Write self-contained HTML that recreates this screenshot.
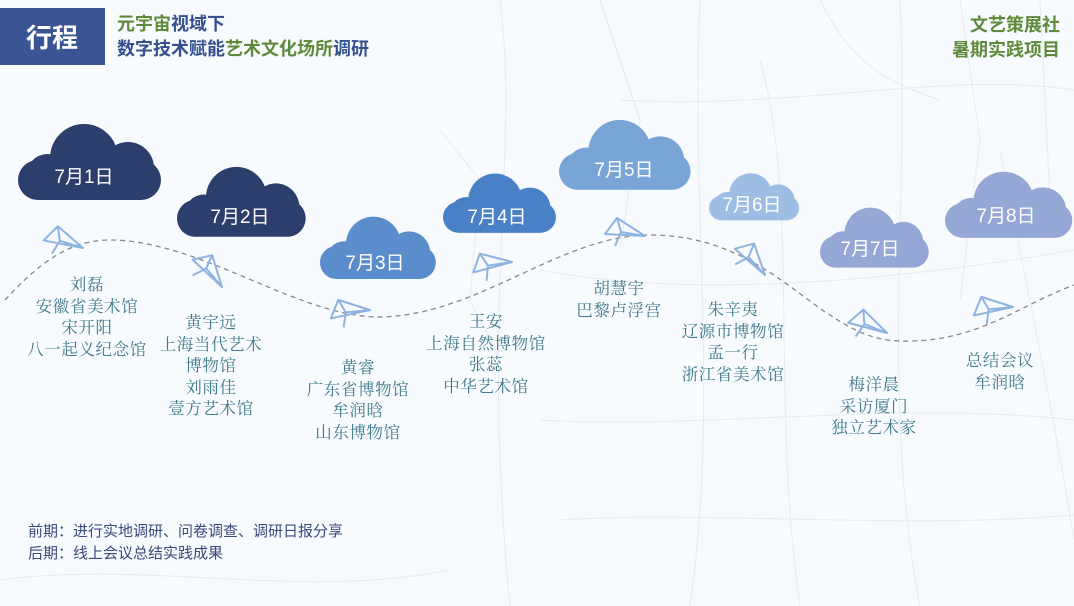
<!DOCTYPE html>
<html><head><meta charset="utf-8"><style>
html,body{margin:0;padding:0;}
body{width:1074px;height:606px;overflow:hidden;background:#f8fbfd;position:relative;font-family:"Liberation Sans","Noto Sans CJK SC",sans-serif;}
.lbl{position:absolute;text-align:center;color:#3e7a8a;font-family:"Noto Serif CJK SC","Liberation Serif",serif;font-size:16.5px;letter-spacing:0.6px;line-height:21.5px;white-space:nowrap;transform:translateX(-50%);}
</style></head><body>
<svg width="1074" height="606" style="position:absolute;left:0;top:0">
<defs>
<g id="cloud"><rect x="0" y="38" width="143" height="40" rx="20"/><circle cx="66" cy="36" r="34"/><circle cx="110" cy="46" r="26"/><circle cx="30" cy="54" r="22"/></g>
<g id="plane" fill="none" stroke="#8fb3e0" stroke-width="2" stroke-linejoin="round"><polygon points="0,0 -28,-18 -40,-2"/><polyline points="-28,-18 -24,-4 0,0"/><line x1="-24" y1="-4" x2="-30" y2="10"/></g>
</defs>
<g stroke="#e6ebf1" stroke-width="1" fill="none">
<path d="M500 0 C520 150 480 300 510 606"/><path d="M700 0 C690 200 720 400 690 606"/><path d="M760 60 C800 200 770 400 800 606"/>
<path d="M900 0 C910 200 880 400 920 606"/><path d="M1000 150 C1030 300 1060 450 1074 540"/><path d="M540 270 C700 300 900 280 1074 250"/>
<path d="M540 420 C700 430 900 400 1074 420"/><path d="M560 520 C700 510 900 530 1074 515"/><path d="M620 100 C800 110 950 70 1074 90"/>
<path d="M820 0 C850 60 880 80 940 100"/><path d="M440 130 L480 180 L470 300 L500 360"/><path d="M0 580 C150 560 300 600 450 570"/>
<path d="M600 0 L640 120 L620 250"/><path d="M960 0 L980 140 L960 300"/><path d="M1040 0 L1050 200"/>
</g>
<path d="M5,300 C40,262 70,240 110,240 C200,240 300,318 380,317 C480,315 560,235 650,235 C740,235 790,290 830,315 C860,335 880,342 910,341 C980,340 1020,305 1074,285" fill="none" stroke="#888" stroke-width="1.3" stroke-dasharray="5,4"/>
<use href="#plane" transform="translate(83,248) rotate(8)"/>
<use href="#plane" transform="translate(222,287) rotate(40)"/>
<use href="#plane" transform="translate(370,310) rotate(-15)"/>
<use href="#plane" transform="translate(512,262) rotate(-18)"/>
<use href="#plane" transform="translate(645,236) rotate(0)"/>
<use href="#plane" transform="translate(765,275) rotate(38)"/>
<use href="#plane" transform="translate(887,333) rotate(12)"/>
<use href="#plane" transform="translate(1013,307) rotate(-15)"/>
<use href="#cloud" fill="#2c3e6b" transform="translate(18,122) scale(1,1)"/>
<use href="#cloud" fill="#2c3e6b" transform="translate(177,165) scale(0.9,0.92)"/>
<use href="#cloud" fill="#5b8ccc" transform="translate(320,215) scale(0.81,0.82)"/>
<use href="#cloud" fill="#4a80c6" transform="translate(443,172) scale(0.79,0.78)"/>
<use href="#cloud" fill="#79a5d6" transform="translate(559,118) scale(0.92,0.92)"/>
<use href="#cloud" fill="#9dbde3" transform="translate(709,172) scale(0.63,0.62)"/>
<use href="#cloud" fill="#95a7d5" transform="translate(820,206) scale(0.76,0.79)"/>
<use href="#cloud" fill="#95a7d5" transform="translate(945,170) scale(0.89,0.87)"/>
<g fill="#fff" font-size="19" text-anchor="middle" font-family="Liberation Sans,Noto Sans CJK SC,sans-serif">
<text x="84" y="183">7月1日</text><text x="240" y="223">7月2日</text><text x="375" y="269">7月3日</text>
<text x="497" y="223">7月4日</text><text x="624" y="176">7月5日</text><text x="752" y="211">7月6日</text>
<text x="870" y="255">7月7日</text><text x="1006" y="222">7月8日</text>
</g>
<rect x="0" y="8" width="105" height="57" fill="#3a5494"/>
<text x="52" y="47" fill="#fff" font-size="26" font-weight="bold" text-anchor="middle" font-family="Liberation Sans,Noto Sans CJK SC,sans-serif">行程</text>
<g font-size="18" font-weight="bold" font-family="Liberation Sans,Noto Sans CJK SC,sans-serif">
<text x="117" y="30"><tspan fill="#5e8a3c">元宇宙</tspan><tspan fill="#34508e">视域下</tspan></text>
<text x="117" y="55"><tspan fill="#34508e">数字技术赋能</tspan><tspan fill="#5e8a3c">艺术文化场所</tspan><tspan fill="#34508e">调研</tspan></text>
<text x="1060" y="31" fill="#5e8a3c" text-anchor="end">文艺策展社</text>
<text x="1060" y="56" fill="#5e8a3c" text-anchor="end">暑期实践项目</text>
</g>
<g font-size="15" fill="#3a4a7a" font-family="Liberation Sans,Noto Sans CJK SC,sans-serif">
<text x="28" y="536">前期：进行实地调研、问卷调查、调研日报分享</text>
<text x="28" y="558">后期：线上会议总结实践成果</text>
</g>
</svg>
<div class="lbl" style="left:87px;top:273px">刘磊<br>安徽省美术馆<br>宋开阳<br>八一起义纪念馆</div>
<div class="lbl" style="left:211px;top:311px">黄宇远<br>上海当代艺术<br>博物馆<br>刘雨佳<br>壹方艺术馆</div>
<div class="lbl" style="left:358px;top:356px">黄睿<br>广东省博物馆<br>牟润晗<br>山东博物馆</div>
<div class="lbl" style="left:486px;top:310px">王安<br>上海自然博物馆<br>张蕊<br>中华艺术馆</div>
<div class="lbl" style="left:619px;top:277px">胡慧宇<br>巴黎卢浮宫</div>
<div class="lbl" style="left:733px;top:298px">朱辛夷<br>辽源市博物馆<br>孟一行<br>浙江省美术馆</div>
<div class="lbl" style="left:874px;top:373px">梅洋晨<br>采访厦门<br>独立艺术家</div>
<div class="lbl" style="left:1000px;top:349px">总结会议<br>牟润晗</div>
</body></html>
